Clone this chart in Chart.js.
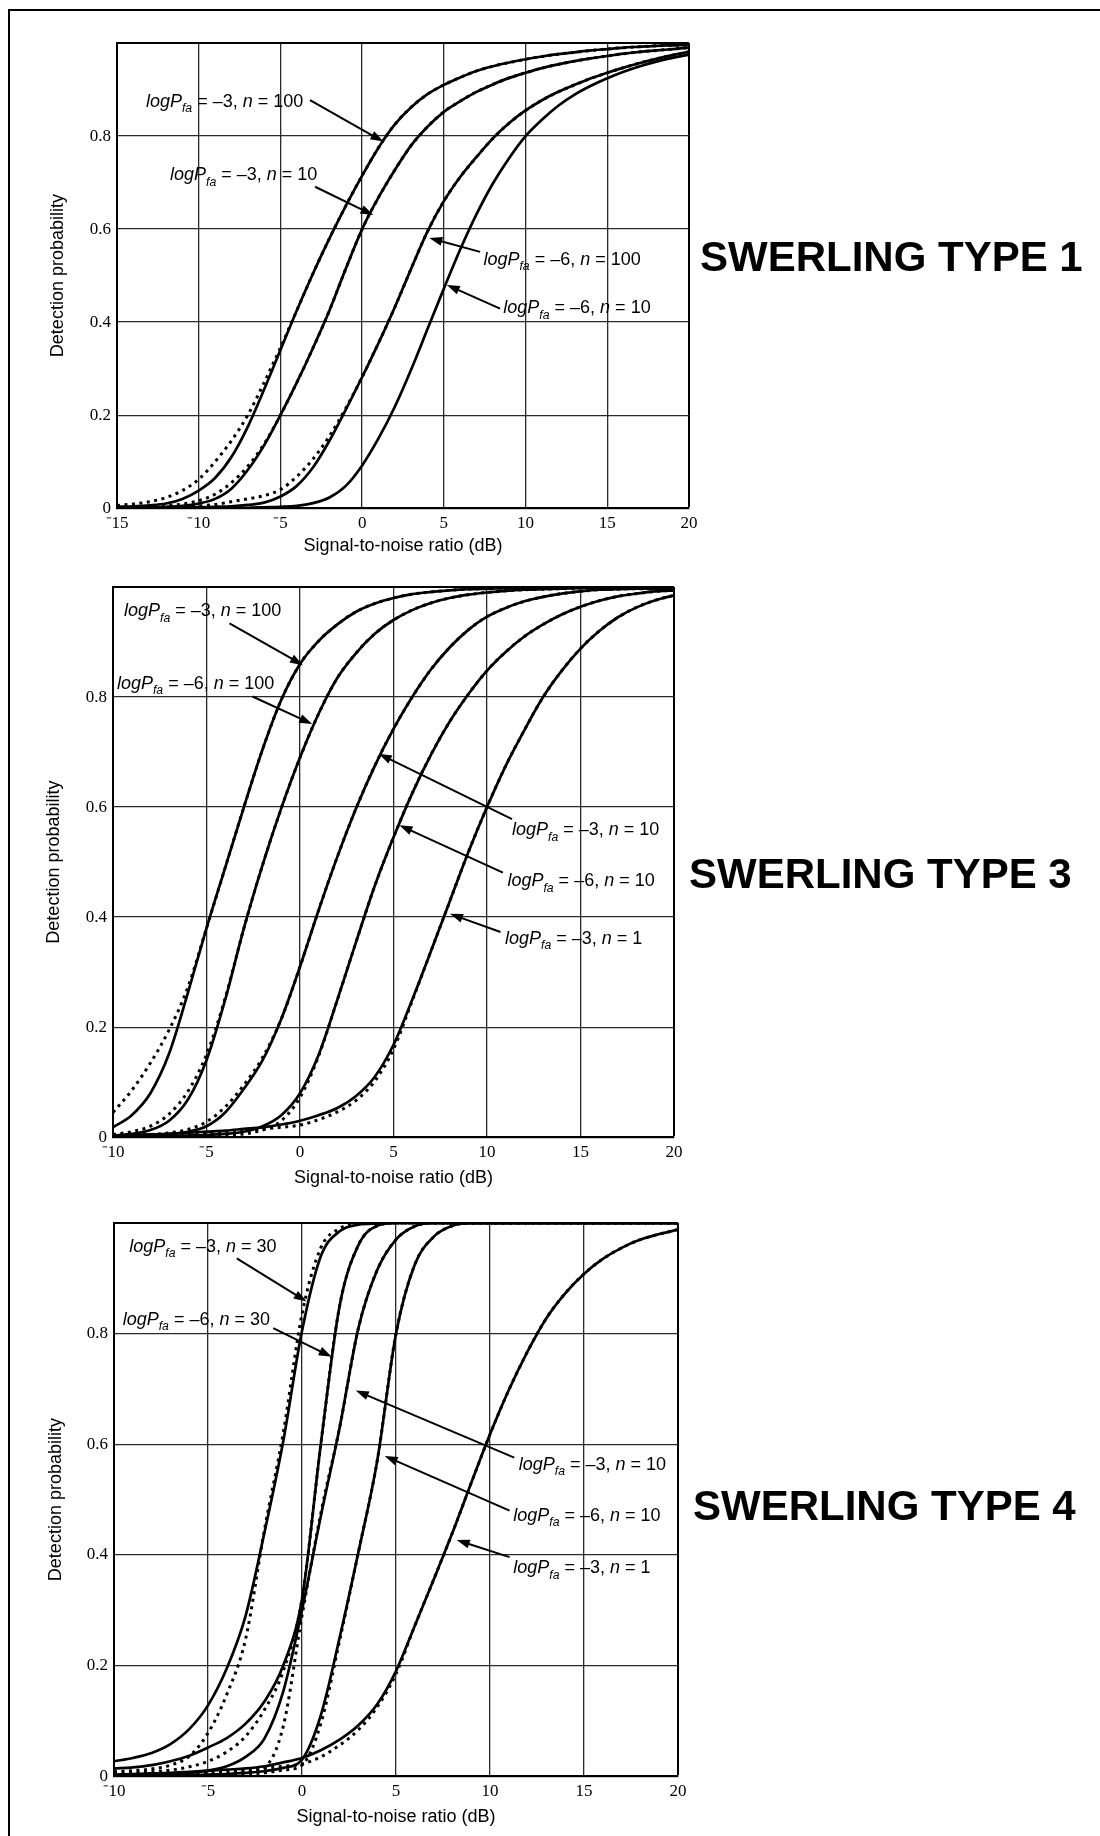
<!DOCTYPE html>
<html>
<head>
<meta charset="utf-8">
<script src="https://cdn.jsdelivr.net/npm/chart.js@4.4.1/dist/chart.umd.min.js"></script>
<style>
  body { margin: 0; background: #fff; }
  #page { position: relative; width: 1100px; height: 1836px; overflow: hidden; background: #fff; }
  #frame { position: absolute; left: 8px; top: 9px; width: 1200px; height: 1900px; border-left: 2px solid #000; border-top: 2px solid #000; }
  canvas { position: absolute; left: 0; }
  .type { position: absolute; font: bold 42px "Liberation Sans", Arial, sans-serif; line-height: 42px; white-space: nowrap; color: #000; }
</style>
</head>
<body>
<div id="page">
  <div id="frame"></div>
  <canvas id="type1" width="720" height="557" style="top:0px"></canvas>
  <canvas id="type3" width="720" height="619" style="top:570px"></canvas>
  <canvas id="type4" width="720" height="628" style="top:1200px"></canvas>
  <div class="type" style="left:700px; top:236px">SWERLING TYPE 1</div>
  <div class="type" style="left:689px; top:853px">SWERLING TYPE 3</div>
  <div class="type" style="left:693px; top:1485px">SWERLING TYPE 4</div>
</div>
<script>
// ---- data: SNR (dB) grids ----
const snr1 = [-15,-14,-13,-12,-11,-10,-9,-8,-7,-6,-5,-4,-3,-2,-1,0,1,2,3,4,5,6,7,8,9,10,11,12,13,14,15,16,17,18,19,20];
const snr34 = [-10,-9,-8,-7,-6,-5,-4,-3,-2,-1,0,1,2,3,4,5,6,7,8,9,10,11,12,13,14,15,16,17,18,19,20];

// ---- Swerling type 1 ----
const t1Pfa = [-3, -3, -6, -6];
const t1N = [100, 10, 100, 10];
const t1A = [0.003,0.004,0.006,0.01,0.02,0.038,0.065,0.11,0.175,0.255,0.34,0.425,0.505,0.58,0.65,
  0.715,0.775,0.825,0.862,0.89,0.91,0.926,0.94,0.95,0.958,0.965,0.971,0.976,0.98,0.984,0.987,0.99,0.992,0.994,0.995,0.996];
const t1Adot = [0.006,0.009,0.014,0.023,0.038,0.062,0.1,0.145,0.2,0.27,0.345,0.425,0.505,0.58,0.65,
  0.715,0.775,0.825,0.862,0.89,0.91,0.926,0.94,0.95,0.958,0.965,0.971,0.976,0.98,0.984,0.987,0.99,0.992,0.994,0.995,0.996];
const t1B = [0.001,0.001,0.002,0.003,0.005,0.01,0.02,0.042,0.082,0.135,0.2,0.27,0.345,0.425,0.515,
  0.6,0.668,0.727,0.78,0.82,0.852,0.875,0.895,0.911,0.925,0.936,0.946,0.954,0.961,0.967,0.972,0.977,0.981,0.984,0.987,0.99];
const t1Bdot = [0.002,0.002,0.003,0.005,0.009,0.016,0.03,0.055,0.09,0.138,0.2,0.27,0.345,0.425,0.515,
  0.6,0.668,0.727,0.78,0.82,0.852,0.875,0.895,0.911,0.925,0.936,0.946,0.954,0.961,0.967,0.972,0.977,0.981,0.984,0.987,0.99];
const t1C = [0.001,0.001,0.001,0.001,0.001,0.002,0.003,0.004,0.007,0.012,0.025,0.048,0.088,0.145,0.212,
  0.282,0.355,0.432,0.515,0.595,0.66,0.712,0.755,0.795,0.828,0.855,0.877,0.895,0.91,0.924,0.936,0.947,0.957,0.966,0.974,0.981];
const t1Cdot = [0.002,0.002,0.002,0.003,0.004,0.005,0.008,0.014,0.02,0.027,0.04,0.068,0.106,0.155,0.215,
  0.282,0.355,0.432,0.515,0.595,0.66,0.712,0.755,0.795,0.828,0.855,0.877,0.895,0.91,0.924,0.936,0.947,0.957,0.966,0.974,0.981];
const t1D = [0,0,0,0,0,0.001,0.001,0.001,0.001,0.002,0.003,0.005,0.011,0.023,0.048,
  0.092,0.15,0.218,0.298,0.385,0.472,0.556,0.632,0.698,0.753,0.8,0.835,0.865,0.889,0.908,0.924,0.938,0.95,0.96,0.968,0.975];

// ---- Swerling type 3 ----
const t3Pfa = [-3, -6, -3, -6, -3];
const t3N = [100, 100, 10, 10, 1];
const t3E = [0.018,0.04,0.08,0.152,0.262,0.38,0.49,0.6,0.705,0.795,
  0.86,0.902,0.932,0.955,0.97,0.98,0.987,0.991,0.994,0.996,0.997,0.998,0.998,0.998,0.999,0.999,0.999,0.999,0.999,0.999,0.999];
const t3Edot = [0.045,0.085,0.135,0.195,0.272,0.38,0.49,0.6,0.705,0.795,
  0.86,0.902,0.932,0.955,0.97,0.98,0.987,0.991,0.994,0.996,0.997,0.998,0.998,0.998,0.999,0.999,0.999,0.999,0.999,0.999,0.999];
const t3F = [0.003,0.006,0.013,0.03,0.068,0.14,0.25,0.38,0.495,0.598,
  0.69,0.77,0.835,0.88,0.915,0.94,0.958,0.971,0.98,0.986,0.99,0.993,0.995,0.996,0.997,0.998,0.998,0.998,0.998,0.998,0.998];
const t3Fdot = [0.005,0.01,0.02,0.042,0.083,0.15,0.253,0.38,0.495,0.598,
  0.69,0.77,0.835,0.88,0.915,0.94,0.958,0.971,0.98,0.986,0.99,0.993,0.995,0.996,0.997,0.998,0.998,0.998,0.998,0.998,0.998];
const t3G = [0.002,0.003,0.004,0.006,0.01,0.02,0.045,0.088,0.14,0.215,
  0.31,0.413,0.51,0.598,0.675,0.742,0.8,0.85,0.89,0.922,0.946,0.962,0.974,0.982,0.988,0.992,0.995,0.996,0.997,0.997,0.997];
const t3Gdot = [0.003,0.004,0.005,0.008,0.014,0.028,0.055,0.095,0.145,0.215,
  0.31,0.413,0.51,0.598,0.675,0.742,0.8,0.85,0.89,0.922,0.946,0.962,0.974,0.982,0.988,0.992,0.995,0.996,0.997,0.997,0.997];
const t3H = [0.001,0.001,0.002,0.002,0.003,0.004,0.006,0.01,0.02,0.04,
  0.08,0.15,0.25,0.355,0.457,0.545,0.625,0.695,0.755,0.805,0.848,0.882,0.91,0.932,0.95,0.964,0.975,0.983,0.988,0.992,0.994];
const t3Hdot = [0.001,0.001,0.001,0.002,0.002,0.003,0.004,0.006,0.013,0.03,
  0.072,0.148,0.25,0.355,0.457,0.545,0.625,0.695,0.755,0.805,0.848,0.882,0.91,0.932,0.95,0.964,0.975,0.983,0.988,0.992,0.994];
const t3I = [0.003,0.004,0.005,0.006,0.008,0.01,0.012,0.015,0.018,0.023,
  0.03,0.04,0.053,0.075,0.11,0.168,0.25,0.338,0.428,0.518,0.6,0.675,0.74,0.8,0.848,0.888,0.92,0.945,0.963,0.976,0.985];
const t3Idot = [0.002,0.003,0.004,0.005,0.006,0.008,0.01,0.012,0.015,0.018,
  0.022,0.032,0.046,0.067,0.102,0.16,0.248,0.338,0.428,0.518,0.6,0.675,0.74,0.8,0.848,0.888,0.92,0.945,0.963,0.976,0.985];

// ---- Swerling type 4 ----
const t4Pfa = [-3, -6, -3, -6, -3];
const t4N = [30, 30, 10, 10, 1];
const t4J = [0.027,0.033,0.042,0.058,0.085,0.128,0.195,0.29,0.44,0.605,
  0.805,0.94,0.985,0.997,0.999,1,1,1,1,1,1,1,1,1,1,1,1,1,1,1,1];
const t4Jdot = [0.008,0.01,0.013,0.02,0.036,0.078,0.148,0.248,0.445,0.62,
  0.835,0.955,0.99,0.999,1,1,1,1,1,1,1,1,1,1,1,1,1,1,1,1,1];
const t4K = [0.014,0.016,0.02,0.027,0.037,0.052,0.069,0.095,0.135,0.2,
  0.32,0.6,0.85,0.96,0.995,1,1,1,1,1,1,1,1,1,1,1,1,1,1,1,1];
const t4Kdot = [0.005,0.006,0.008,0.011,0.017,0.027,0.044,0.072,0.12,0.19,
  0.32,0.6,0.85,0.96,0.995,1,1,1,1,1,1,1,1,1,1,1,1,1,1,1,1];
const t4L = [0.002,0.002,0.003,0.004,0.006,0.01,0.018,0.035,0.068,0.153,
  0.3,0.47,0.63,0.81,0.915,0.97,0.994,1,1,1,1,1,1,1,1,1,1,1,1,1,1];
const t4Ldot = [0.001,0.001,0.001,0.001,0.002,0.003,0.005,0.008,0.016,0.09,
  0.29,0.475,0.63,0.81,0.915,0.97,0.994,1,1,1,1,1,1,1,1,1,1,1,1,1,1];
const t4M = [0.001,0.001,0.001,0.002,0.002,0.003,0.004,0.006,0.009,0.015,
  0.03,0.11,0.25,0.405,0.57,0.8,0.925,0.975,0.995,1,1,1,1,1,1,1,1,1,1,1,1];
const t4Mdot = [0.001,0.001,0.001,0.001,0.001,0.002,0.003,0.004,0.006,0.011,
  0.02,0.095,0.245,0.405,0.57,0.8,0.925,0.975,0.995,1,1,1,1,1,1,1,1,1,1,1,1];
const t4N1 = [0.003,0.004,0.005,0.006,0.008,0.01,0.012,0.014,0.018,0.025,
  0.033,0.047,0.066,0.092,0.13,0.19,0.272,0.355,0.44,0.53,0.618,0.698,0.768,0.828,0.873,0.908,0.935,0.955,0.97,0.98,0.988];
const t4N1dot = [0.002,0.003,0.004,0.005,0.006,0.007,0.009,0.011,0.014,0.018,
  0.022,0.035,0.056,0.084,0.125,0.185,0.272,0.355,0.44,0.53,0.618,0.698,0.768,0.828,0.873,0.908,0.935,0.955,0.97,0.98,0.988];

// ---- layout (pixels on the page) ----
const TITLE_SIZE = 18;
const LH = TITLE_SIZE * 1.2;
const geo1 = { canvasTop: 0, top: 43, bottom: 508, left: 117, right: 689, yTitleX: 58, xTitleY: 546 };
const geo3 = { canvasTop: 570, top: 587, bottom: 1137, left: 113, right: 674, yTitleX: 54, xTitleY: 1178 };
const geo4 = { canvasTop: 1200, top: 1223, bottom: 1776, left: 114, right: 678, yTitleX: 56, xTitleY: 1817 };

// annotation placement in data units: label baseline start, arrow start, arrow tip
const notes1 = [
  { k: 0, at: [-13.23, 0.863], from: [-3.19, 0.877], tip: [1.30, 0.788] },
  { k: 1, at: [-11.76, 0.705], from: [-2.88, 0.691], tip: [0.69, 0.630] },
  { k: 2, at: [7.42, 0.523], from: [7.22, 0.551], tip: [4.11, 0.581] },
  { k: 3, at: [8.64, 0.419], from: [8.44, 0.429], tip: [5.18, 0.480] }
];
const notes3 = [
  { k: 0, at: [-9.41, 0.947], from: [-3.77, 0.934], tip: [0.16, 0.858] },
  { k: 1, at: [-9.79, 0.815], from: [-2.54, 0.801], tip: [0.65, 0.751] },
  { k: 2, at: [11.34, 0.549], from: [11.34, 0.578], tip: [4.21, 0.697] },
  { k: 3, at: [11.09, 0.456], from: [10.85, 0.481], tip: [5.32, 0.567] },
  { k: 4, at: [10.96, 0.352], from: [10.72, 0.373], tip: [8.02, 0.406] }
];
const notes4 = [
  { k: 0, at: [-9.19, 0.948], from: [-3.47, 0.936], tip: [0.25, 0.858] },
  { k: 1, at: [-9.54, 0.816], from: [-1.53, 0.810], tip: [1.58, 0.758] },
  { k: 2, at: [11.53, 0.554], from: [11.29, 0.576], tip: [2.86, 0.697] },
  { k: 3, at: [11.24, 0.462], from: [11.04, 0.480], tip: [4.40, 0.579] },
  { k: 4, at: [11.24, 0.367], from: [11.04, 0.396], tip: [8.23, 0.427] }
];

function drawLabel(ctx, x, y, pfa, n) {
  const size = 18;
  const parts = [
    ['logP', 'italic', size, 0],
    ['fa', 'italic', size * 0.68, size * 0.3],
    [' = \u2013' + Math.abs(pfa) + ', ', 'normal', size, 0],
    ['n', 'italic', size, 0],
    [' = ' + n, 'normal', size, 0]
  ];
  let cx = x;
  ctx.fillStyle = '#000';
  ctx.textAlign = 'left';
  ctx.textBaseline = 'alphabetic';
  parts.forEach(([t, st, sz, dy]) => {
    ctx.font = st + ' ' + sz + 'px "Liberation Sans", Arial, sans-serif';
    ctx.fillText(t, cx, y + dy);
    cx += ctx.measureText(t).width;
  });
}

const notesPlugin = {
  id: 'notes',
  afterDatasetsDraw(chart, args, opts) {
    const { ctx } = chart;
    const xs = chart.scales.x, ys = chart.scales.y;
    ctx.save();
    opts.items.forEach(nt => {
      const fx = xs.getPixelForValue(nt.from[0]), fy = ys.getPixelForValue(nt.from[1]);
      const tx = xs.getPixelForValue(nt.tip[0]), ty = ys.getPixelForValue(nt.tip[1]);
      const a = Math.atan2(ty - fy, tx - fx);
      const head = 13, half = 4.5;
      ctx.strokeStyle = '#000';
      ctx.fillStyle = '#000';
      ctx.lineWidth = 2;
      ctx.beginPath();
      ctx.moveTo(fx, fy);
      ctx.lineTo(tx - Math.cos(a) * head * 0.8, ty - Math.sin(a) * head * 0.8);
      ctx.stroke();
      ctx.beginPath();
      ctx.moveTo(tx, ty);
      ctx.lineTo(tx - head * Math.cos(a) + half * Math.sin(a), ty - head * Math.sin(a) - half * Math.cos(a));
      ctx.lineTo(tx - head * Math.cos(a) - half * Math.sin(a), ty - head * Math.sin(a) + half * Math.cos(a));
      ctx.closePath();
      ctx.fill();
      drawLabel(ctx, xs.getPixelForValue(nt.at[0]), ys.getPixelForValue(nt.at[1]), opts.pfa[nt.k], opts.n[nt.k]);
    });
    ctx.restore();
  }
};

function curve(snr, values, dotted) {
  return {
    data: snr.map((x, i) => ({ x: x, y: values[i] })),
    borderColor: '#000',
    borderWidth: dotted ? 3 : 2.7,
    borderDash: dotted ? [3, 4.5] : [],
    pointRadius: 0,
    cubicInterpolationMode: 'monotone',
    fill: false
  };
}

function makeChart(id, geo, snr, xMin, solid, dotted, notes, pfa, n) {
  const padLeft = geo.yTitleX - LH / 2;
  const tickFont = { family: '"Liberation Serif", "Times New Roman", serif', size: 17 };
  const titleFont = { family: '"Liberation Sans", Arial, sans-serif', size: TITLE_SIZE };
  return new Chart(document.getElementById(id), {
    type: 'line',
    data: {
      datasets: dotted.map(v => curve(snr, v, true)).concat(solid.map(v => curve(snr, v, false)))
    },
    options: {
      responsive: false,
      animation: false,
      events: [],
      layout: { padding: { left: padLeft, top: geo.top - geo.canvasTop, right: 720 - geo.right, bottom: 0 } },
      plugins: {
        legend: { display: false },
        tooltip: { enabled: false },
        notes: { items: notes, pfa: pfa, n: n }
      },
      scales: {
        x: {
          type: 'linear', min: xMin, max: 20,
          afterFit: s => { s.height = geo.xTitleY + LH / 2 - geo.bottom; },
          ticks: {
            stepSize: 5, maxRotation: 0, autoSkip: false, padding: 5, color: '#000', font: tickFont,
            callback: v => v < 0 ? '\u207B' + Math.abs(v) : String(v)
          },
          grid: {
            drawTicks: false,
            color: c => c.tick && c.tick.value === 20 ? '#000' : '#2a2a2a',
            lineWidth: c => c.tick && c.tick.value === 20 ? 2 : 1.3
          },
          border: { display: true, color: '#000', width: 2 },
          title: { display: true, text: 'Signal-to-noise ratio (dB)', color: '#000', font: titleFont, padding: 0 }
        },
        y: {
          min: 0, max: 1,
          afterFit: s => { s.width = geo.left - padLeft; },
          ticks: {
            stepSize: 0.2, padding: 6, color: '#000', font: tickFont,
            callback: v => v > 0.99 ? '' : String(Math.round(v * 10) / 10)
          },
          grid: {
            drawTicks: false,
            color: c => c.tick && c.tick.value > 0.99 ? '#000' : '#2a2a2a',
            lineWidth: c => c.tick && c.tick.value > 0.99 ? 2 : 1.3
          },
          border: { display: true, color: '#000', width: 2 },
          title: { display: true, text: 'Detection probability', color: '#000', font: titleFont, padding: 0 }
        }
      }
    },
    plugins: [notesPlugin]
  });
}

makeChart('type1', geo1, snr1, -15,
  [t1A, t1B, t1C, t1D], [t1Adot, t1Bdot, t1Cdot], notes1, t1Pfa, t1N);
makeChart('type3', geo3, snr34, -10,
  [t3E, t3F, t3G, t3H, t3I], [t3Edot, t3Fdot, t3Gdot, t3Hdot, t3Idot], notes3, t3Pfa, t3N);
makeChart('type4', geo4, snr34, -10,
  [t4J, t4K, t4L, t4M, t4N1], [t4Jdot, t4Kdot, t4Ldot, t4Mdot, t4N1dot], notes4, t4Pfa, t4N);
</script>
</body>
</html>
